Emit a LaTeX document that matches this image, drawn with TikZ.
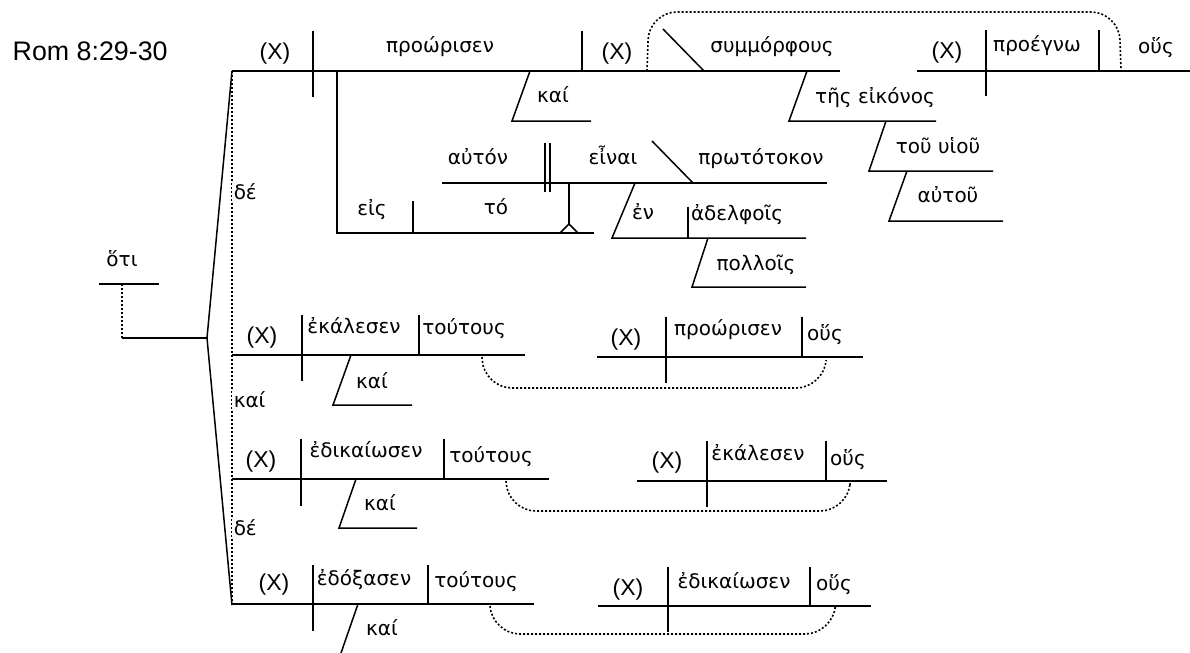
\documentclass[tikz,border=0pt]{standalone}
\usepackage{fontspec}
\setmainfont{Liberation Sans}
\newfontfamily\greek{DejaVu Sans}

\begin{document}
\begin{tikzpicture}[x=0.5pt,y=-0.5pt,line width=0.75pt,
  gw/.style={font=\greek\fontsize{10}{12}\selectfont,anchor=base,inner sep=0pt},
  xs/.style={font=\fontsize{11.5}{13}\selectfont,anchor=base,inner sep=0pt},
  cj/.style={gw,anchor=base west,fill=white,inner sep=1pt},
  lnk/.style={dash pattern=on 1pt off 1pt,line width=0.8pt,rounded corners=14}]
  \useasboundingbox (0,0) rectangle (1190,653);
  \node[anchor=base west,inner sep=0pt,font=\fontsize{13.4}{16}\selectfont] (ref) at (12,61) {Rom 8:29-30};
  % compound bracket and hoti
  \draw (232,71) -- (207,338) -- (232,605);
  \draw[lnk] (232,71) -- (232,605);
  \draw (99,284) -- (159,284);
  \draw[lnk] (122,284) -- (122,338);
  \draw (122,338) -- (207,338);
  \node[gw] (hoti) at (122,266) {ὅτι};
  \node[cj] (de1) at (231,199) {δέ};
  \node[cj] (kai0) at (231,407) {καί};
  \node[cj] (de2) at (231,535) {δέ};
  % first clause
  \draw (232,71) -- (840,71);
  \draw (313,31) -- (313,97);
  \draw (582,31) -- (582,71);
  \draw (663,29) -- (704,71);
  \node[xs] (x1) at (275,59) {(X)};
  \node[gw] (v1) at (440,53) {προώρισεν};
  \node[xs] (x2) at (617,59) {(X)};
  \node[gw] (oc1) at (772,53) {συμμόρφους};
  \draw (530,71) -- (512,121) -- (591,121);
  \node[gw] (kai1) at (553,102) {καί};
  \draw (807,71) -- (789,121) -- (936,121);
  \node[gw] (eikonos) at (875,103) {τῆς εἰκόνος};
  \draw (886,121) -- (869,171) -- (993,171);
  \node[gw] (huiou) at (938,153) {τοῦ υἱοῦ};
  \draw (907,171) -- (889,221) -- (1003,221);
  \node[gw] (autou) at (948,202) {αὐτοῦ};
  % relative clause, top right
  \draw (917,71) -- (1190,71);
  \draw (986,30) -- (986,96);
  \draw (1099,30) -- (1099,71);
  \node[xs] (xr1) at (947,58) {(X)};
  \node[gw] (proegno) at (1037,51) {προέγνω};
  \node[gw] (hous1) at (1156,54) {οὕς};
  \draw[lnk] (647,71) -- (649,12) -- (1119,12) -- (1121,69);
  % eis to + infinitive
  \draw (337,71) -- (337,233) -- (594,233);
  \draw (413,201) -- (413,233);
  \node[gw] (eis) at (372,215) {εἰς};
  \node[gw] (to) at (496,214) {τό};
  \draw (569,183) -- (569,224);
  \draw (560,233) -- (569,224) -- (578,233);
  \draw (442,183) -- (827,183);
  \draw (545,143) -- (545,192);
  \draw (550,143) -- (550,192);
  \draw (652,141) -- (693,183);
  \node[gw] (auton) at (478,164) {αὐτόν};
  \node[gw] (einai) at (613,164) {εἶναι};
  \node[gw] (proto) at (761,164) {πρωτότοκον};
  \draw (635,183) -- (612,238) -- (806,238);
  \draw (688,207) -- (688,238);
  \node[gw] (en) at (643,219) {ἐν};
  \node[gw] (adelph) at (737,220) {ἀδελφοῖς};
  \draw (708,238) -- (692,287) -- (806,287);
  \node[gw] (pollois) at (756,270) {πολλοῖς};
  % second clause
  \draw (232,355) -- (525,355);
  \draw (302,315) -- (302,381);
  \draw (419,315) -- (419,355);
  \draw (351,355) -- (333,405) -- (412,405);
  \node[xs] (x3) at (262,343) {(X)};
  \node[gw] (v2) at (354,333) {ἐκάλεσεν};
  \node[gw] (do2) at (464,334) {τούτους};
  \node[gw] (kai2) at (372,388) {καί};
  \draw (597,357) -- (863,357);
  \draw (666,317) -- (666,383);
  \draw (802,317) -- (802,357);
  \node[xs] (xr2) at (626,345) {(X)};
  \node[gw] (rv2) at (728,335) {προώρισεν};
  \node[gw] (hous2) at (825,340) {οὕς};
  \draw[lnk] (482,357) -- (484,388) -- (824,388) -- (826,362);
  % third clause
  \draw (232,479) -- (549,479);
  \draw (301,439) -- (301,506);
  \draw (444,439) -- (444,479);
  \draw (356,479) -- (339,528) -- (417,528);
  \node[xs] (x4) at (261,467) {(X)};
  \node[gw] (v3) at (366,457) {ἐδικαίωσεν};
  \node[gw] (do3) at (491,462) {τούτους};
  \node[gw] (kai3) at (380,510) {καί};
  \draw (637,481) -- (887,481);
  \draw (707,441) -- (707,507);
  \draw (826,441) -- (826,481);
  \node[xs] (xr3) at (667,468) {(X)};
  \node[gw] (rv3) at (758,460) {ἐκάλεσεν};
  \node[gw] (hous3) at (848,465) {οὕς};
  \draw[lnk] (506,481) -- (508,511) -- (848,511) -- (850,485);
  % fourth clause
  \draw (232,604) -- (534,604);
  \draw (313,565) -- (313,631);
  \draw (428,565) -- (428,604);
  \draw (358,604) -- (341,653);
  \node[xs] (x5) at (274,590) {(X)};
  \node[gw] (v4) at (364,585) {ἐδόξασεν};
  \node[gw] (do4) at (476,587) {τούτους};
  \node[gw] (kai4) at (382,635) {καί};
  \draw (598,606) -- (871,606);
  \draw (668,567) -- (668,632);
  \draw (810,567) -- (810,606);
  \node[xs] (xr4) at (628,595) {(X)};
  \node[gw] (rv4) at (734,588) {ἐδικαίωσεν};
  \node[gw] (hous4) at (834,590) {οὕς};
  \draw[lnk] (490,606) -- (492,634) -- (833,634) -- (835,610);
\end{tikzpicture}
\end{document}
